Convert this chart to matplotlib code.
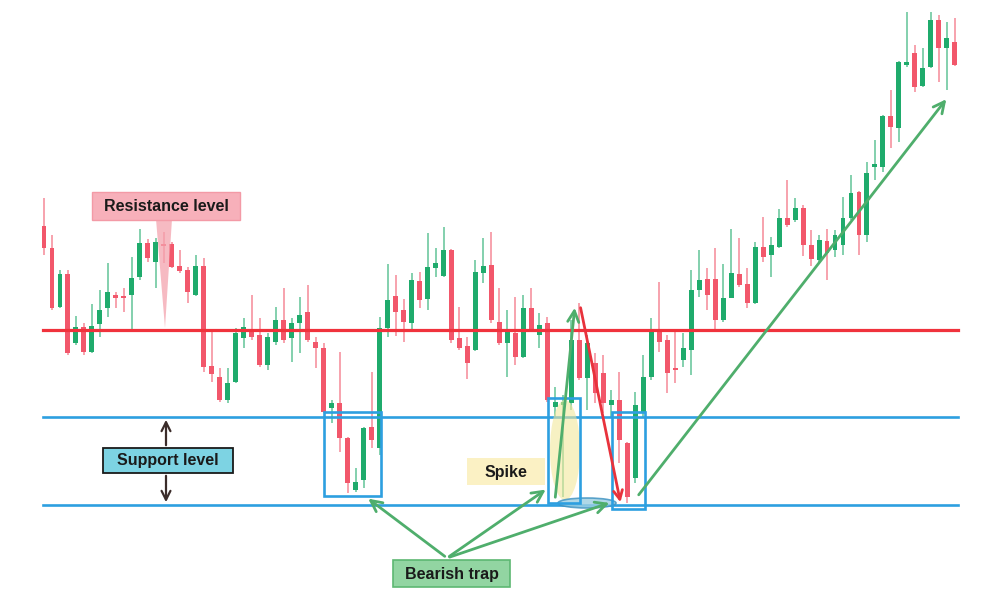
import numpy as np
import matplotlib
matplotlib.use('Agg')
import matplotlib.pyplot as plt
from matplotlib.patches import Rectangle, Ellipse, Polygon

# OHLC values (arbitrary price units)
opens = [374, 352, 293, 326, 257, 273, 248, 276, 292, 305,
         304, 305, 323, 357, 338, 356, 356, 334, 330, 305,
         334, 234, 223, 200, 218, 262, 270, 265, 235, 258,
         280, 262, 277, 288, 258, 252, 192, 197, 162, 110,
         120, 173, 152, 272, 304, 290, 277, 319, 301, 332,
         324, 350, 262, 254, 250, 327, 335, 278, 257, 267,
         243, 292, 265, 277, 193, 195, 197, 260, 222, 237,
         227, 195, 200, 157, 122, 188, 223, 270, 260, 232,
         240, 250, 310, 321, 321, 280, 302, 326, 316, 297,
         353, 345, 353, 382, 380, 392, 355, 340, 359, 350,
         355, 382, 408, 365, 433, 433, 484, 472, 535, 547,
         514, 533, 580, 552, 558]
highs = [402, 365, 330, 330, 284, 277, 296, 310, 337, 308,
         312, 343, 371, 361, 362, 368, 358, 350, 333, 345,
         342, 270, 232, 232, 272, 282, 305, 282, 267, 293,
         312, 282, 303, 315, 263, 257, 200, 248, 163, 132,
         173, 228, 283, 336, 325, 301, 327, 328, 367, 352,
         373, 351, 293, 263, 340, 362, 368, 312, 290, 303,
         305, 312, 287, 283, 213, 205, 280, 297, 265, 247,
         245, 210, 228, 158, 208, 245, 282, 318, 265, 270,
         267, 330, 350, 332, 352, 336, 371, 362, 332, 358,
         383, 363, 391, 420, 402, 395, 370, 365, 371, 370,
         403, 425, 409, 438, 460, 485, 510, 539, 588, 555,
         552, 588, 585, 578, 582]
lows = [345, 290, 292, 245, 255, 245, 247, 263, 283, 292,
        288, 268, 320, 338, 312, 337, 332, 327, 297, 304,
        228, 218, 198, 197, 217, 252, 260, 233, 230, 255,
        257, 238, 247, 258, 232, 187, 177, 148, 107, 108,
        112, 152, 145, 263, 264, 258, 270, 292, 290, 323,
        323, 257, 250, 221, 249, 317, 277, 255, 223, 235,
        242, 268, 252, 198, 183, 103, 190, 220, 190, 197,
        187, 183, 137, 97, 117, 182, 220, 248, 207, 217,
        233, 225, 303, 290, 270, 278, 302, 313, 292, 296,
        338, 323, 352, 373, 378, 344, 334, 336, 320, 343,
        345, 380, 345, 358, 420, 428, 452, 458, 533, 508,
        513, 532, 518, 510, 534]
closes = [352, 292, 326, 247, 273, 248, 274, 290, 308, 302,
          302, 322, 357, 342, 358, 354, 333, 329, 308, 334,
          233, 226, 200, 217, 267, 273, 263, 235, 263, 280,
          260, 277, 285, 260, 252, 188, 197, 162, 117, 118,
          172, 160, 272, 300, 288, 278, 320, 300, 333, 337,
          350, 260, 252, 237, 328, 334, 280, 257, 270, 243,
          292, 270, 275, 200, 198, 198, 260, 222, 257, 207,
          197, 200, 160, 103, 195, 223, 268, 258, 227, 230,
          252, 310, 320, 305, 280, 302, 327, 315, 297, 353,
          343, 355, 382, 375, 392, 355, 341, 360, 347, 365,
          382, 407, 365, 427, 436, 484, 473, 538, 538, 513,
          532, 580, 552, 562, 535]

resistance = 270
support_top = 183
support_bottom = 95

GREEN = '#1fab6c'
RED = '#f2576b'
BLUE = '#2d9fe0'
ARROW_GREEN = '#4fae6c'


def xi(px):
    # screen pixel column -> candle index
    return (px - 44) / 7.99


def label(ax, text, x0, x1, y0, y1, fc, ec, lw=1.2, z=6):
    # box given in pixel columns (x) and price units (y)
    ax.add_patch(Rectangle((xi(x0), y0), xi(x1) - xi(x0), y1 - y0,
                           facecolor=fc, edgecolor=ec, lw=lw, zorder=z))
    ax.text((xi(x0) + xi(x1)) / 2, (y0 + y1) / 2 - 0.5, text, ha='center', va='center',
            fontsize=11.5, fontweight='bold', family='Liberation Sans',
            color='#1a1a1a', zorder=z + 0.5)


def main():
    o = np.array(opens)
    h = np.array(highs)
    l = np.array(lows)
    c = np.array(closes)
    idx = np.arange(len(o))
    up = c >= o
    colors = np.where(up, GREEN, RED)

    fig = plt.figure(figsize=(10, 6), dpi=100)
    ax = fig.add_axes([0, 0, 1, 1])
    ax.set_xlim(xi(0), xi(1000))
    ax.set_ylim(0, 600)
    ax.axis('off')

    # candles
    ax.vlines(idx, l, h, colors=colors, linewidth=1.1, alpha=0.7, zorder=2)
    body_low = np.minimum(o, c)
    body_h = np.maximum(np.abs(c - o), 2)
    ax.bar(idx, body_h, bottom=body_low, width=0.62, color=colors, zorder=3)

    # levels
    ax.plot([xi(43), xi(958)], [resistance, resistance], color='#f0323c', lw=2.3, zorder=4)
    for lvl in (support_top, support_bottom):
        ax.plot([xi(43), xi(958)], [lvl, lvl], color=BLUE, lw=1.9, zorder=4)

    # resistance callout
    ax.add_patch(Polygon([(xi(156), 381), (xi(172), 381), (xi(165), 272)],
                         closed=True, facecolor='#f4a3ae', edgecolor='none', alpha=0.75, zorder=5))
    label(ax, 'Resistance level', 92, 240, 380, 408, '#f7b0ba', '#f39aa6', lw=1)

    # support callout
    arrow_kw = dict(arrowstyle='->', color='#3b2c2a', lw=1.6, mutation_scale=16)
    ax.annotate('', xy=(xi(166), support_top), xytext=(xi(166), 152), arrowprops=arrow_kw, zorder=6)
    ax.annotate('', xy=(xi(166), support_bottom), xytext=(xi(166), 127), arrowprops=arrow_kw, zorder=6)
    label(ax, 'Support level', 103, 233, 127, 152, '#7dd3e3', '#1a1a1a', lw=1.3)

    # spike highlight
    ax.add_patch(Ellipse((xi(565), 150), 30 / 7.99, 100, facecolor='#f2e89c', alpha=0.6,
                         edgecolor='none', zorder=5))
    ax.add_patch(Ellipse((xi(587), 97), 58 / 7.99, 10, facecolor='#9dcfe2', alpha=0.8,
                         edgecolor='#3a90c0', lw=1.2, zorder=5))

    # trap boxes
    for x0, x1, y0, y1 in [(324, 381, 104, 188), (548, 580, 97, 202), (612, 645, 91, 188)]:
        ax.add_patch(Rectangle((xi(x0), y0), xi(x1) - xi(x0), y1 - y0, fill=False,
                               edgecolor=BLUE, lw=1.9, zorder=6))

    label(ax, 'Spike', 467, 545, 115, 142, '#fbf1c4', 'none', lw=0)

    # arrows
    garrow = dict(arrowstyle='->', color=ARROW_GREEN, lw=2, mutation_scale=20)
    for tx, ty in [(366, 103), (548, 112), (612, 98)]:
        ax.annotate('', xy=(xi(tx), ty), xytext=(xi(447), 42), arrowprops=garrow, zorder=7)
    ax.annotate('', xy=(xi(575), 295), xytext=(xi(555), 100), arrowprops=garrow, zorder=7)
    ax.annotate('', xy=(xi(948), 503), xytext=(xi(637), 103), arrowprops=garrow, zorder=7)
    ax.annotate('', xy=(xi(621), 95), xytext=(xi(580), 295),
                arrowprops=dict(arrowstyle='->', color='#e8323c', lw=2, mutation_scale=16), zorder=7)

    label(ax, 'Bearish trap', 393, 510, 13, 40, '#92d5a2', '#5db872', lw=1.2, z=8)

    fig.savefig('out.png', dpi=100, facecolor='white')


if __name__ == '__main__':
    main()
